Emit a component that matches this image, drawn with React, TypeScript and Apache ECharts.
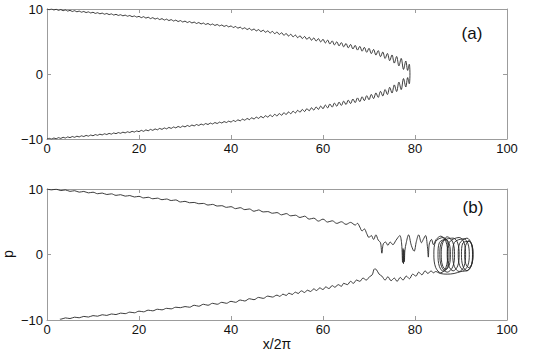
import React, { useEffect, useRef } from "react";
import * as echarts from "echarts";

// Panel (a): rows of [x/2π, p on upper branch, p on lower branch]
const panelARows: [number, number, number][] = [
  [0, 10, -10], [0.5, 9.9, -9.9], [1, 10, -10], [1.5, 9.85, -9.85], [2, 9.96, -9.96],
  [2.5, 9.79, -9.79], [3, 9.91, -9.91], [3.5, 9.74, -9.74], [4, 9.85, -9.85], [4.5, 9.68, -9.68],
  [5, 9.79, -9.79], [5.5, 9.62, -9.62], [6, 9.74, -9.74], [6.5, 9.57, -9.57], [7, 9.68, -9.68],
  [7.5, 9.51, -9.51], [8, 9.62, -9.62], [8.5, 9.45, -9.45], [9, 9.56, -9.56], [9.5, 9.39, -9.39],
  [10, 9.5, -9.5], [10.5, 9.32, -9.32], [11, 9.43, -9.43], [11.5, 9.26, -9.26], [12, 9.37, -9.37],
  [12.5, 9.2, -9.2], [13, 9.31, -9.31], [13.5, 9.14, -9.14], [14, 9.25, -9.25], [14.5, 9.07, -9.07],
  [15, 9.18, -9.18], [15.5, 9.01, -9.01], [16, 9.12, -9.12], [16.5, 8.95, -8.95], [17, 9.06, -9.06],
  [17.5, 8.89, -8.89], [18, 9.0, -9.0], [18.5, 8.82, -8.82], [19, 8.93, -8.93], [19.5, 8.76, -8.76],
  [20, 8.87, -8.87], [20.5, 8.67, -8.67], [21, 8.82, -8.82], [21.5, 8.6, -8.6], [22, 8.74, -8.74],
  [22.5, 8.52, -8.52], [23, 8.67, -8.67], [23.5, 8.45, -8.45], [24, 8.59, -8.59], [24.5, 8.37, -8.37],
  [25, 8.52, -8.52], [25.5, 8.3, -8.3], [26, 8.44, -8.44], [26.5, 8.22, -8.22], [27, 8.37, -8.37],
  [27.5, 8.15, -8.15], [28, 8.29, -8.29], [28.5, 8.07, -8.07], [29, 8.22, -8.22], [29.5, 8.0, -8.0],
  [30, 8.14, -8.14], [30.5, 7.92, -7.92], [31, 8.07, -8.07], [31.5, 7.85, -7.85], [32, 7.99, -7.99],
  [32.5, 7.77, -7.77], [33, 7.92, -7.92], [33.5, 7.7, -7.7], [34, 7.84, -7.84], [34.5, 7.62, -7.62],
  [35, 7.77, -7.77], [35.5, 7.55, -7.55], [36, 7.69, -7.69], [36.5, 7.47, -7.47], [37, 7.62, -7.62],
  [37.5, 7.4, -7.4], [38, 7.54, -7.54], [38.5, 7.32, -7.32], [39, 7.47, -7.47], [39.5, 7.25, -7.25],
  [40, 7.4, -7.4], [40.5, 7.15, -7.15], [41, 7.31, -7.31], [41.5, 7.05, -7.05], [42, 7.21, -7.21],
  [42.5, 6.94, -6.94], [43, 7.12, -7.12], [43.5, 6.84, -6.84], [44, 7.02, -7.02], [44.5, 6.73, -6.73],
  [45, 6.93, -6.93], [45.5, 6.63, -6.63], [46, 6.83, -6.83], [46.5, 6.52, -6.52], [47, 6.74, -6.74],
  [47.5, 6.42, -6.42], [48, 6.64, -6.64], [48.5, 6.31, -6.31], [49, 6.55, -6.55], [49.5, 6.21, -6.21],
  [50, 6.45, -6.45], [50.5, 6.09, -6.09], [51, 6.34, -6.34], [51.5, 5.97, -5.97], [52, 6.22, -6.22],
  [52.5, 5.84, -5.84], [53, 6.11, -6.11], [53.5, 5.72, -5.72], [54, 5.99, -5.99], [54.5, 5.59, -5.59],
  [55, 5.88, -5.88], [55.5, 5.46, -5.46], [56, 5.77, -5.77], [56.5, 5.33, -5.33], [57, 5.66, -5.66],
  [57.5, 5.2, -5.2], [58, 5.55, -5.55], [58.5, 5.07, -5.07], [59, 5.44, -5.44], [59.5, 4.94, -4.94],
  [60, 5.35, -5.35], [60.5, 4.77, -4.77], [61, 5.22, -5.22], [61.5, 4.62, -4.62], [62, 5.09, -5.09],
  [62.5, 4.47, -4.47], [63, 4.96, -4.96], [63.5, 4.32, -4.32], [64, 4.83, -4.83], [64.5, 4.17, -4.17],
  [65, 4.7, -4.7], [65.5, 4.02, -4.02], [66, 4.55, -4.55], [66.5, 3.85, -3.85], [67, 4.4, -4.4],
  [67.5, 3.68, -3.68], [68, 4.25, -4.25], [68.5, 3.51, -3.51], [69, 4.1, -4.1], [69.5, 3.34, -3.34],
  [70, 3.95, -3.95], [70.5, 3.14, -3.14], [71, 3.78, -3.78], [71.5, 2.91, -2.91], [72, 3.6, -3.6],
  [72.5, 2.67, -2.67], [73, 3.38, -3.38], [73.5, 2.39, -2.39], [74, 3.16, -3.16], [74.5, 2.05, -2.05],
  [75, 2.93, -2.93], [75.5, 1.68, -1.68], [76, 2.7, -2.7], [76.5, 1.25, -1.25], [77, 2.4, -2.4],
  [77.5, 0.7, -0.7], [78, 2.0, -2.0],
];
// Panel (a): turning point
const panelATip: [number, number][] = [
  [78.4, 0.55], [78.75, 1.5], [78.9, 0], [78.75, -1.5], [78.4, -0.55],
];

// Panel (b): trajectory pieces, in order
const panelBUpper: [number, number][] = [
  [0, 10], [1, 9.87], [2, 9.97], [3, 9.76], [4, 9.86], [5, 9.64], [6, 9.74], [7, 9.52], [8, 9.63],
  [9, 9.41], [10, 9.51], [11, 9.28], [12, 9.38], [13, 9.16], [14, 9.26], [15, 9.03], [16, 9.13],
  [17, 8.91], [18, 9.0], [19, 8.78], [20, 8.88], [21, 8.64], [22, 8.74], [23, 8.51], [24, 8.6],
  [25, 8.37], [26, 8.47], [27, 8.24], [28, 8.33], [29, 8.02], [30, 8.12],
  [31, 7.9], [32, 7.95], [33, 7.75], [34, 7.8], [35, 7.55], [36, 7.65], [37, 7.4],
  [38, 7.45], [39, 7.2], [40, 7.3], [41, 7.0], [42, 7.15], [43, 6.85], [44, 6.95], [45, 6.6],
  [46, 6.8], [47, 6.5], [48, 6.55], [49, 6.3], [50, 6.4], [51, 6.05], [52, 6.25], [53, 5.9],
  [54, 6.0], [55, 5.65], [56, 5.85], [57, 5.4], [58, 5.55], [59, 5.1], [60, 5.4], [61, 4.95],
  [62, 5.15], [63, 4.75], [64, 5.0], [65, 4.6], [66, 4.9], [67, 4.5], [67.5, 4.75], [68, 4.2],
  [68.5, 3.6], [69, 3.9], [69.5, 3.2], [70, 2.6], [70.5, 2.9], [71, 2.3], [71.5, 3.0], [72, 2.2],
];
const panelBChaos: [number, number][] = [
  [72.5, 1.8], [72.8, 0.2], [73.1, 1.6], [73.6, 1.9], [74.1, 1.4], [74.6, 1.9], [75.2, 1.5],
  [75.8, 2.1], [76.3, 2.6], [76.7, 2.9], [77.1, 1.6], [77.3, -1.2], [77.4, 0.9], [77.5, -1.4],
  [77.6, 0.7], [77.7, -1.1], [77.8, 0.6], [78.1, 1.8], [78.6, 3.0], [79.2, 1.4], [79.8, 0.5],
  [80.3, 2.0], [80.8, 3.0], [81.4, 1.8], [81.8, 2.3], [82.3, 2.9], [82.7, 1.2], [82.9, -0.4],
  [83.1, 1.6], [83.6, 2.3], [84.0, 1.5], [84.6, 2.3],
];
const panelBLoops: [number, number][] = [
  [85.6, 2.8], [86.73, 1.96], [87.1, 0], [86.73, -1.96], [85.6, -2.8], [84.48, -1.96], [84.1, 0], [84.48, 1.96],
  [86.2, 2.6], [87.1, 1.82], [87.4, 0], [87.1, -1.82], [86.2, -2.6], [85.3, -1.82], [85.0, 0], [85.3, 1.82],
  [86.7, 2.3], [87.45, 1.61], [87.7, 0], [87.45, -1.61], [86.7, -2.3], [85.95, -1.61], [85.7, 0], [85.95, 1.61],
  [87.0, 2.7], [88.2, 1.89], [88.6, 0], [88.2, -1.89], [87.0, -2.7], [85.8, -1.89], [85.4, 0], [85.8, 1.89],
  [88.3, 2.5], [89.28, 1.75], [89.6, 0], [89.28, -1.75], [88.3, -2.5], [87.33, -1.75], [87.0, 0], [87.33, 1.75],
  [89.6, 2.6], [90.65, 1.82], [91.0, 0], [90.65, -1.82], [89.6, -2.6], [88.55, -1.82], [88.2, 0], [88.55, 1.82],
  [90.6, 2.4], [91.5, 1.68], [91.8, 0], [91.5, -1.68], [90.6, -2.4], [89.7, -1.68], [89.4, 0], [89.7, 1.68],
  [91.3, 2.5], [92.2, 1.75], [92.5, 0], [92.2, -1.75], [91.3, -2.5], [90.4, -1.75], [90.1, 0], [90.4, 1.75],
  [91.7, 2.0], [92.38, 1.4], [92.6, 0], [92.38, -1.4], [91.7, -2.0], [91.03, -1.4], [90.8, 0], [91.03, 1.4],
  [91.7, 2.1], [92.38, 1.5], [92.6, 0], [92.3, -1.6], [91.5, -2.4], [90.0, -2.6], [88.5, -2.9],
  [87.0, -3.0], [85.5, -2.9], [84.5, -2.6],
];
const panelBLower: [number, number][] = [
  [84.0, -2.8], [83.5, -2.5], [82.8, -2.9], [82.2, -2.5], [81.5, -3.1], [80.8, -2.7], [80.2, -3.3],
  [79.5, -3.0], [78.8, -3.7], [78.1, -3.3], [77.4, -3.9], [76.8, -3.5], [76.1, -4.1], [75.5, -3.6],
  [74.8, -4.0], [74.1, -3.4], [73.5, -3.9], [72.8, -3.3], [72.2, -3.0], [71.6, -2.3], [71.2, -2.2],
  [70.7, -3.1], [70.1, -3.4], [69.4, -3.9], [68.7, -3.6], [68.0, -4.1], [67.3, -3.9], [66.6, -4.4],
  [66.0, -4.1], [65.3, -4.6], [64.5, -4.4], [64.0, -4.85], [63.3, -4.6], [62.6, -5.0], [62.0, -4.75],
  [61.3, -5.2], [60.6, -4.95], [60.0, -5.35], [59.3, -5.1], [58.6, -5.5], [58.0, -5.25], [57.3, -5.65],
  [56.6, -5.45], [56.0, -5.8], [55.3, -5.55], [54.6, -5.95], [54.0, -5.75], [53.3, -6.1], [52.6, -5.9],
  [52.0, -6.25], [51.3, -6.05], [50.6, -6.4], [50.0, -6.2], [49, -6.5], [48, -6.35], [47, -6.7],
  [46, -6.55], [45, -6.9], [44, -6.75], [43, -7.1], [42, -6.95], [41, -7.3], [40, -7.15], [39, -7.45],
  [38, -7.3], [37, -7.6], [36, -7.45], [35, -7.75], [34, -7.6], [33, -7.9], [32, -7.75], [31, -8.05],
  [30, -7.95], [29, -8.12], [28, -8.05], [27, -8.3], [26, -8.22], [25, -8.45], [24, -8.36], [23, -8.6],
  [22, -8.5], [21, -8.75], [20, -8.65], [19, -8.9], [18, -8.8], [17, -9.03], [16, -8.95], [15, -9.17],
  [14, -9.08], [13, -9.3], [12, -9.2], [11, -9.42], [10, -9.33], [9, -9.55], [8, -9.45], [7, -9.66],
  [6, -9.57], [5, -9.78], [4, -9.68], [3, -9.88], [2.8, -9.85],
];

const xTicks = { min: 0, max: 100, interval: 20 };
const yTicks = { min: -10, max: 10, interval: 10 };
const panelLabels = ["(a)", "(b)"];
const xTitle = "x/2\u03c0";
const yTitle = "p";

const FONT = '"Liberation Sans", Arial, Helvetica, sans-serif';
const AXIS_COLOR = "#9c9c9c";
const LINE_COLOR = "#262626";

export default function App() {
  const ref = useRef<HTMLDivElement>(null);
  useEffect(() => {
    document.body.style.margin = "0";
    if (!ref.current) return;
    const chart = echarts.init(ref.current, undefined, { renderer: "svg" });

    const seriesA: [number, number][] = [
      ...panelARows.map((r) => [r[0], r[1]] as [number, number]),
      ...panelATip,
      ...panelARows.slice().reverse().map((r) => [r[0], r[2]] as [number, number]),
    ];
    const seriesB: [number, number][] = [
      ...panelBUpper,
      ...panelBChaos,
      ...panelBLoops,
      ...panelBLower,
    ];

    const grids = [
      { left: 47, top: 9, width: 460, height: 130 },
      { left: 47, top: 189, width: 460, height: 131 },
    ];

    const fmtY = (v: number) => (v < 0 ? "\u2212" + Math.abs(v) : String(v));

    const xAxes: any[] = [];
    const yAxes: any[] = [];
    grids.forEach((_, gi) => {
      xAxes.push({
        gridIndex: gi, type: "value", position: "bottom", ...xTicks,
        axisLine: { show: true, onZero: false, lineStyle: { color: AXIS_COLOR, width: 1 } },
        axisTick: { show: true, inside: true, length: 4, lineStyle: { color: AXIS_COLOR } },
        axisLabel: { show: true, color: "#111", fontSize: 13, fontFamily: FONT, margin: 3 },
        splitLine: { show: false },
      });
      xAxes.push({
        gridIndex: gi, type: "value", position: "top", ...xTicks,
        axisLine: { show: true, onZero: false, lineStyle: { color: AXIS_COLOR, width: 1 } },
        axisTick: { show: true, inside: true, length: 4, lineStyle: { color: AXIS_COLOR } },
        axisLabel: { show: false },
        splitLine: { show: false },
      });
      yAxes.push({
        gridIndex: gi, type: "value", position: "left", ...yTicks,
        axisLine: { show: true, onZero: false, lineStyle: { color: AXIS_COLOR, width: 1 } },
        axisTick: { show: true, inside: true, length: 4, lineStyle: { color: AXIS_COLOR } },
        axisLabel: { show: true, color: "#111", fontSize: 13, fontFamily: FONT, margin: 4, formatter: fmtY },
        splitLine: { show: false },
      });
      yAxes.push({
        gridIndex: gi, type: "value", position: "right", ...yTicks,
        axisLine: { show: true, onZero: false, lineStyle: { color: AXIS_COLOR, width: 1 } },
        axisTick: { show: true, inside: true, length: 4, lineStyle: { color: AXIS_COLOR } },
        axisLabel: { show: false },
        splitLine: { show: false },
      });
    });

    const lineSeries = (data: [number, number][], idx: number) => ({
      type: "line",
      xAxisIndex: idx * 2,
      yAxisIndex: idx * 2,
      data,
      symbol: "none",
      showSymbol: false,
      smooth: 0.35,
      clip: true,
      lineStyle: { color: LINE_COLOR, width: 0.9 },
      silent: true,
    });

    chart.setOption({
      animation: false,
      backgroundColor: "#ffffff",
      grid: grids,
      xAxis: xAxes,
      yAxis: yAxes,
      series: [lineSeries(seriesA, 0), lineSeries(seriesB, 1)],
      graphic: [
        {
          type: "text", x: 472, y: 33,
          style: { text: panelLabels[0], fill: "#111", fontSize: 17, fontFamily: FONT, align: "center", verticalAlign: "middle" },
        },
        {
          type: "text", x: 473, y: 207,
          style: { text: panelLabels[1], fill: "#111", fontSize: 17, fontFamily: FONT, align: "center", verticalAlign: "middle" },
        },
        {
          type: "text", x: 8, y: 254, rotation: Math.PI / 2,
          style: { text: yTitle, fill: "#111", fontSize: 14, fontFamily: FONT, align: "center", verticalAlign: "middle" },
        },
        {
          type: "text", x: 277, y: 344,
          style: { text: xTitle, fill: "#111", fontSize: 14, fontFamily: FONT, align: "center", verticalAlign: "middle" },
        },
      ],
    });
    return () => chart.dispose();
  }, []);
  return <div ref={ref} style={{ width: 545, height: 354 }} />;
}
